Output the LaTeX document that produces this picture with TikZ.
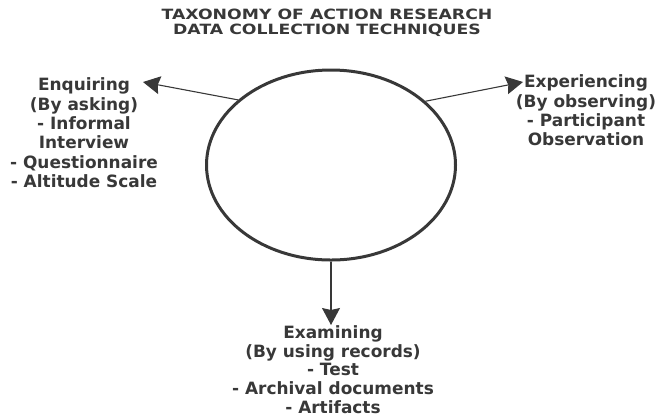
\documentclass[tikz,border=0pt]{standalone}
\usepackage{fontspec}
\setmainfont{DejaVu Sans}
\newfontfamily\titlefont[FakeStretch=1.22]{DejaVu Sans}
\usetikzlibrary{arrows.meta,shapes.geometric}
\definecolor{ink}{HTML}{383838}
\tikzset{
  lbl/.style={align=center, text=ink, font=\bfseries\fontsize{17}{19.5}\selectfont, inner sep=0pt},
  ttl/.style={align=center, text=ink, font=\titlefont\bfseries\fontsize{14.2}{15}\selectfont, inner sep=0pt},
  conn/.style={draw=ink, line width=1.1bp, -{Stealth[length=17bp, width=18bp, inset=2bp]}}
}
\begin{document}
\begin{tikzpicture}[x=1bp, y=-1bp]
\useasboundingbox (0,0) rectangle (657,419);
\node[ttl] (title) at (327,22.5) {TAXONOMY OF ACTION RESEARCH\\DATA COLLECTION TECHNIQUES};
\node[draw=ink, line width=3bp, ellipse, minimum width=249bp, minimum height=190bp, inner sep=0pt] (core) at (331,165) {};
\node[lbl, anchor=north] (enq) at (84,77.5) {Enquiring\\(By asking)\\- Informal\\Interview\\- Questionnaire\\- Altitude Scale};
\node[lbl, anchor=north] (exp) at (586,74.5) {Experiencing\\(By observing)\\- Participant\\Observation};
\node[lbl, anchor=north, font=\bfseries\fontsize{17}{19}\selectfont] (exa) at (333,325) {Examining\\(By using records)\\- Test\\- Archival documents\\- Artifacts};
\coordinate (lt) at (143,82);
\coordinate (rt) at (523,82);
\draw[conn] (core.145) -- (lt);
\draw[conn] (core.34) -- (rt);
\draw[conn] (core.south) -- (core.south |- exa.north);
\end{tikzpicture}
\end{document}
